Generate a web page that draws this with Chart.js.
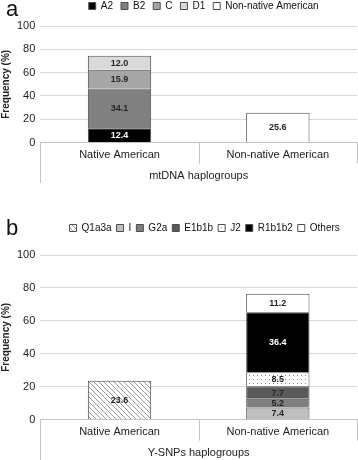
<!DOCTYPE html>
<html>
<head>
<meta charset="utf-8">
<script src="https://cdn.jsdelivr.net/npm/chart.js@4/dist/chart.umd.min.js"></script>
<style>
  body { margin: 0; background: #fff; width: 358px; height: 460px; position: relative; overflow: hidden; }
  .panel { position: absolute; left: 0; width: 358px; }
  .tag { position: absolute; left: 6px; font: 22px "Liberation Sans", Arial, sans-serif; color: #111; }
</style>
</head>
<body>
<div class="panel" style="top:-7px;height:190px"><canvas id="chartA" width="358" height="190"></canvas></div>
<div class="tag" style="top:-4px">a</div>
<div class="panel" style="top:218px;height:242px"><canvas id="chartB" width="358" height="242"></canvas></div>
<div class="tag" style="top:215px">b</div>
<script>
// categories (same for both panels)
const groups = ['Native American', 'Non-native American'];

// panel a: mtDNA haplogroups
const mtLabels = ['A2', 'B2', 'C', 'D1', 'Non-native American'];
const mtA2 = [12.4, null];
const mtB2 = [34.1, null];
const mtC = [15.9, null];
const mtD1 = [12.0, null];
const mtNonNative = [null, 25.6];

// panel b: Y-SNPs haplogroups
const ySnpLabels = ['Q1a3a', 'I', 'G2a', 'E1b1b', 'J2', 'R1b1b2', 'Others'];
const yQ1a3a = [23.6, null];
const yI = [null, 7.4];
const yG2a = [null, 5.2];
const yE1b1b = [null, 7.7];
const yJ2 = [null, 8.5];
const yR1b1b2 = [null, 36.4];
const yOthers = [null, 11.2];

const yTicks = [0, 20, 40, 60, 80, 100];

const FONT = '"Liberation Sans", Arial, sans-serif';

function hatchPattern() {
  const c = document.createElement('canvas');
  c.width = 5; c.height = 5;
  const g = c.getContext('2d');
  g.fillStyle = '#fff';
  g.fillRect(0, 0, 5, 5);
  g.strokeStyle = '#9a9a9a';
  g.lineWidth = 1;
  g.beginPath();
  g.moveTo(-1, -1); g.lineTo(6, 6);
  g.moveTo(-1, 4); g.lineTo(1, 6);
  g.moveTo(4, -1); g.lineTo(6, 1);
  g.stroke();
  return g.createPattern(c, 'repeat');
}

function dotPattern() {
  const c = document.createElement('canvas');
  c.width = 4; c.height = 4;
  const g = c.getContext('2d');
  g.fillStyle = '#fff';
  g.fillRect(0, 0, 4, 4);
  g.fillStyle = '#8a8a8a';
  g.fillRect(1, 1, 1, 1);
  return g.createPattern(c, 'repeat');
}

// value labels in the middle of each segment
const segmentLabels = {
  id: 'segmentLabels',
  afterDatasetsDraw(chart) {
    const ctx = chart.ctx;
    ctx.save();
    ctx.font = 'bold 9px ' + FONT;
    ctx.textAlign = 'center';
    ctx.textBaseline = 'middle';
    chart.data.datasets.forEach((ds, i) => {
      chart.getDatasetMeta(i).data.forEach((bar, j) => {
        const v = ds.data[j];
        if (v == null) return;
        ctx.fillStyle = ds.labelColor || '#262626';
        ctx.fillText(v.toFixed(1), bar.x, (bar.y + bar.base) / 2 + 0.5);
      });
    });
    ctx.restore();
  }
};

// category separators below the axis (Excel style), left one runs past the title
const axisFrame = {
  id: 'axisFrame',
  afterDraw(chart) {
    const ctx = chart.ctx, a = chart.chartArea;
    const n = chart.data.labels.length;
    ctx.save();
    ctx.strokeStyle = '#c4c4c4';
    ctx.lineWidth = 1;
    ctx.beginPath();
    for (let i = 0; i <= n; i++) {
      const x = Math.round(a.left + i * (a.right - a.left) / n) + 0.5;
      ctx.moveTo(x, a.bottom);
      ctx.lineTo(x, a.bottom + (i === 0 ? 41 : 21));
    }
    ctx.stroke();
    ctx.restore();
  }
};

// extra room under the legend and a small nudge to the right
function legendTweak(extra, shift) {
  return {
    id: 'legendTweak',
    beforeInit(chart) {
      const fit = chart.legend.fit;
      chart.legend.fit = function () {
        fit.call(this);
        this.height += extra;
      };
    },
    afterLayout(chart) {
      chart.legend.left += shift;
      chart.legend.right += shift;
    }
  };
}

function makeOptions(title, legendPad) {
  return {
    responsive: false,
    animation: false,
    layout: { padding: { left: 0, right: 1, top: 0, bottom: 0 } },
    plugins: {
      legend: {
        position: 'top',
        fullSize: false,
        labels: {
          boxWidth: 7, boxHeight: 7, padding: legendPad,
          color: '#111', font: { family: FONT, size: 10 }
        }
      },
      tooltip: { enabled: false }
    },
    scales: {
      x: {
        stacked: true,
        grid: { drawOnChartArea: false, drawTicks: false },
        border: { color: '#c4c4c4' },
        ticks: { color: '#222', font: { family: FONT, size: 11 }, padding: 6 },
        title: { display: true, text: title, color: '#222', font: { family: FONT, size: 11 }, padding: { top: 2, bottom: 0 } }
      },
      y: {
        stacked: true,
        min: 0, max: 100,
        afterBuildTicks: s => { s.ticks = yTicks.map(v => ({ value: v })); },
        grid: { color: '#d9d9d9', drawTicks: false },
        border: { display: false },
        ticks: { color: '#222', font: { family: FONT, size: 11 }, padding: 5 },
        title: { display: true, text: 'Frequency (%)', color: '#222', font: { family: FONT, size: 10, weight: 'bold' }, padding: 0 }
      }
    }
  };
}

const barBase = { borderColor: '#4d4d4d', borderWidth: 1, barPercentage: 0.4, categoryPercentage: 1 };

new Chart(document.getElementById('chartA'), {
  type: 'bar',
  data: {
    labels: groups,
    datasets: [
      { ...barBase, label: mtLabels[0], data: mtA2, backgroundColor: '#000', labelColor: '#fff' },
      { ...barBase, label: mtLabels[1], data: mtB2, backgroundColor: '#808080' },
      { ...barBase, label: mtLabels[2], data: mtC, backgroundColor: '#a6a6a6' },
      { ...barBase, label: mtLabels[3], data: mtD1, backgroundColor: '#d9d9d9' },
      { ...barBase, label: mtLabels[4], data: mtNonNative, backgroundColor: '#fff' }
    ]
  },
  options: makeOptions('mtDNA haplogroups', 8),
  plugins: [segmentLabels, axisFrame, legendTweak(5, 5)]
});

new Chart(document.getElementById('chartB'), {
  type: 'bar',
  data: {
    labels: groups,
    datasets: [
      { ...barBase, label: ySnpLabels[0], data: yQ1a3a, backgroundColor: hatchPattern() },
      { ...barBase, label: ySnpLabels[1], data: yI, backgroundColor: '#bfbfbf' },
      { ...barBase, label: ySnpLabels[2], data: yG2a, backgroundColor: '#7f7f7f' },
      { ...barBase, label: ySnpLabels[3], data: yE1b1b, backgroundColor: '#595959' },
      { ...barBase, label: ySnpLabels[4], data: yJ2, backgroundColor: dotPattern() },
      { ...barBase, label: ySnpLabels[5], data: yR1b1b2, backgroundColor: '#000', labelColor: '#fff' },
      { ...barBase, label: ySnpLabels[6], data: yOthers, backgroundColor: '#fff' }
    ]
  },
  options: makeOptions('Y-SNPs haplogroups', 5),
  plugins: [segmentLabels, axisFrame, legendTweak(12, 6)]
});
</script>
</body>
</html>
